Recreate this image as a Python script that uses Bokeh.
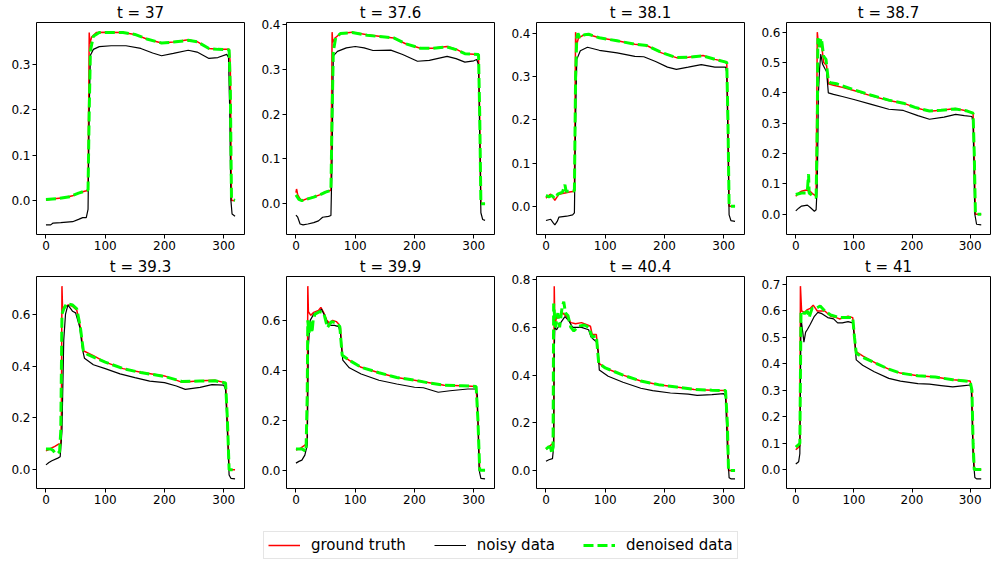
from bokeh.plotting import figure
from bokeh.models import Range1d, FixedTicker, PrintfTickFormatter, Legend, LegendItem
from bokeh.layouts import column, row
from bokeh.embed import file_html
from bokeh.resources import INLINE

# ---------------- data ----------------
titles = ["t = 37", "t = 37.6", "t = 38.1", "t = 38.7",
          "t = 39.3", "t = 39.9", "t = 40.4", "t = 41"]
series_labels = ["ground truth", "noisy data", "denoised data"]
x_ticks = [0, 100, 200, 300]
y_ticks = [
    [0.0, 0.1, 0.2, 0.3],
    [0.0, 0.1, 0.2, 0.3, 0.4],
    [0.0, 0.1, 0.2, 0.3, 0.4],
    [0.0, 0.1, 0.2, 0.3, 0.4, 0.5, 0.6],
    [0.0, 0.2, 0.4, 0.6],
    [0.0, 0.2, 0.4, 0.6],
    [0.0, 0.2, 0.4, 0.6, 0.8],
    [0.0, 0.1, 0.2, 0.3, 0.4, 0.5, 0.6, 0.7],
]

# t = 37
gt_37 = [(0, 0.0), (10, 0.003), (30, 0.006), (45, 0.01), (55, 0.016), (65, 0.02), (71, 0.022), (73, 0.37),
         (74, 0.345), (77, 0.36), (85, 0.37), (100, 0.371), (130, 0.37), (150, 0.366), (170, 0.356),
         (195, 0.347), (215, 0.349), (240, 0.354), (255, 0.35), (275, 0.335), (290, 0.333), (309, 0.333),
         (311, 0.3), (313, 0.0), (319, 0.0)]
noisy_37 = [(0, -0.054), (8, -0.054), (12, -0.05), (25, -0.049), (45, -0.047), (55, -0.042), (62, -0.038),
            (68, -0.038), (71, -0.02), (73, 0.2), (75, 0.32), (80, 0.333), (90, 0.339), (110, 0.341),
            (135, 0.341), (160, 0.335), (180, 0.325), (195, 0.319), (215, 0.324), (240, 0.331), (255, 0.327),
            (275, 0.313), (290, 0.315), (305, 0.322), (308, 0.315), (310, 0.2), (312, 0.0), (314, -0.03),
            (319, -0.035)]
den_37 = [(0, 0.002), (20, 0.004), (40, 0.008), (55, 0.016), (65, 0.02), (71, 0.023), (73, 0.2), (75, 0.33),
          (80, 0.362), (90, 0.37), (130, 0.37), (150, 0.366), (170, 0.356), (195, 0.347), (215, 0.349),
          (240, 0.353), (255, 0.35), (275, 0.335), (290, 0.333), (309, 0.332), (311, 0.25), (313, 0.002),
          (319, 0.0)]

# t = 37.6
gt_376 = [(0, 0.025), (1, 0.033), (3, 0.02), (8, 0.009), (12, 0.008), (20, 0.012), (30, 0.015), (40, 0.02),
          (50, 0.027), (59, 0.03), (61, 0.383), (62, 0.36), (66, 0.37), (75, 0.38), (95, 0.383), (120, 0.377),
          (150, 0.372), (165, 0.37), (185, 0.357), (210, 0.347), (230, 0.347), (255, 0.351), (270, 0.345),
          (285, 0.335), (308, 0.333), (310, 0.2), (312, 0.0), (319, 0.0)]
noisy_376 = [(0, -0.025), (3, -0.03), (7, -0.045), (12, -0.047), (20, -0.045), (30, -0.042), (38, -0.038),
             (45, -0.03), (55, -0.028), (59, -0.026), (61, 0.1), (63, 0.33), (70, 0.34), (85, 0.348),
             (100, 0.351), (115, 0.348), (130, 0.342), (160, 0.343), (180, 0.333), (205, 0.318), (225, 0.32),
             (255, 0.329), (270, 0.324), (285, 0.316), (300, 0.319), (305, 0.322), (308, 0.31), (310, 0.15),
             (312, -0.02), (315, -0.035), (319, -0.037)]
den_376 = [(0, 0.02), (5, 0.01), (10, 0.007), (20, 0.011), (30, 0.015), (40, 0.02), (50, 0.026), (59, 0.03),
           (61, 0.2), (63, 0.34), (67, 0.37), (75, 0.38), (95, 0.382), (120, 0.376), (150, 0.372), (165, 0.37),
           (185, 0.357), (210, 0.347), (230, 0.347), (255, 0.35), (270, 0.344), (285, 0.335), (308, 0.333),
           (310, 0.2), (312, 0.0), (319, 0.0)]

# t = 38.1
gt_381 = [(0, 0.019), (5, 0.025), (8, 0.028), (12, 0.02), (15, 0.014), (18, 0.02), (22, 0.028), (30, 0.03),
          (40, 0.033), (48, 0.035), (50, 0.403), (51, 0.37), (55, 0.39), (62, 0.395), (70, 0.398), (90, 0.39),
          (120, 0.383), (150, 0.375), (170, 0.372), (195, 0.355), (220, 0.344), (240, 0.345), (265, 0.349),
          (285, 0.34), (305, 0.334), (307, 0.2), (309, 0.0), (319, 0.0)]
noisy_381 = [(0, -0.033), (8, -0.03), (12, -0.038), (15, -0.043), (19, -0.035), (22, -0.025), (35, -0.023),
             (45, -0.02), (48, -0.015), (50, 0.2), (52, 0.34), (58, 0.36), (70, 0.368), (90, 0.361),
             (120, 0.355), (150, 0.347), (165, 0.346), (185, 0.335), (205, 0.322), (220, 0.317), (240, 0.322),
             (262, 0.328), (285, 0.322), (303, 0.322), (305, 0.31), (307, 0.15), (309, -0.02), (312, -0.033),
             (319, -0.035)]
den_381 = [(0, 0.025), (5, 0.022), (10, 0.025), (15, 0.018), (20, 0.028), (28, 0.033), (32, 0.05),
           (34, 0.035), (40, 0.035), (48, 0.036), (50, 0.3), (52, 0.39), (54, 0.4), (57, 0.39), (65, 0.397),
           (72, 0.398), (90, 0.39), (120, 0.383), (150, 0.375), (170, 0.372), (195, 0.356), (220, 0.344),
           (240, 0.345), (265, 0.348), (285, 0.34), (305, 0.333), (307, 0.2), (309, 0.0), (319, 0.0)]

# t = 38.7
gt_387 = [(0, 0.059), (5, 0.07), (10, 0.076), (18, 0.08), (25, 0.075), (30, 0.066), (35, 0.06), (37, 0.6),
          (39, 0.56), (42, 0.555), (45, 0.548), (48, 0.5), (53, 0.49), (56, 0.43), (65, 0.425), (80, 0.418),
          (100, 0.408), (130, 0.39), (160, 0.375), (185, 0.366), (205, 0.352), (230, 0.339), (250, 0.343),
          (275, 0.348), (295, 0.34), (305, 0.333), (307, 0.2), (309, 0.0), (319, 0.0)]
noisy_387 = [(0, 0.011), (5, 0.02), (10, 0.027), (20, 0.03), (25, 0.022), (32, 0.01), (35, 0.015), (37, 0.1),
             (39, 0.4), (41, 0.48), (43, 0.528), (46, 0.495), (50, 0.48), (53, 0.47), (56, 0.4), (65, 0.395),
             (80, 0.388), (100, 0.378), (130, 0.362), (160, 0.346), (185, 0.342), (210, 0.325), (230, 0.313),
             (255, 0.32), (275, 0.329), (290, 0.325), (303, 0.322), (305, 0.3), (308, 0.0), (311, -0.033),
             (319, -0.035)]
den_387 = [(0, 0.065), (10, 0.07), (18, 0.07), (20, 0.08), (22, 0.132), (23, 0.07), (28, 0.062), (35, 0.055),
           (37, 0.3), (38, 0.58), (40, 0.55), (42, 0.57), (44, 0.58), (46, 0.55), (48, 0.52), (52, 0.51),
           (56, 0.44), (60, 0.433), (70, 0.43), (100, 0.41), (130, 0.392), (160, 0.376), (185, 0.366),
           (205, 0.352), (230, 0.34), (250, 0.343), (275, 0.347), (295, 0.34), (305, 0.333), (307, 0.2),
           (309, 0.0), (319, 0.0)]

# t = 39.3
gt_393 = [(0, 0.073), (8, 0.082), (15, 0.09), (22, 0.1), (25, 0.095), (26, 0.2), (27, 0.708), (28, 0.62),
          (32, 0.63), (38, 0.635), (45, 0.63), (52, 0.615), (58, 0.55), (63, 0.459), (80, 0.44), (100, 0.415),
          (130, 0.39), (160, 0.376), (200, 0.362), (230, 0.337), (260, 0.343), (285, 0.345), (303, 0.335),
          (306, 0.2), (309, 0.0), (319, 0.0)]
noisy_393 = [(0, 0.019), (5, 0.028), (10, 0.035), (20, 0.045), (24, 0.05), (27, 0.15), (30, 0.5), (33, 0.6),
             (37, 0.635), (42, 0.62), (45, 0.611), (50, 0.605), (57, 0.55), (62, 0.46), (65, 0.43), (80, 0.405),
             (100, 0.39), (125, 0.37), (150, 0.355), (175, 0.342), (200, 0.336), (220, 0.323), (235, 0.31),
             (260, 0.318), (280, 0.328), (300, 0.326), (303, 0.31), (306, 0.15), (309, -0.02), (312, -0.033),
             (319, -0.035)]
den_393 = [(0, 0.08), (8, 0.08), (12, 0.075), (15, 0.065), (20, 0.063), (23, 0.07), (25, 0.15), (27, 0.6),
           (30, 0.62), (35, 0.641), (45, 0.635), (52, 0.62), (58, 0.55), (63, 0.46), (70, 0.445), (100, 0.415),
           (130, 0.39), (160, 0.375), (200, 0.36), (230, 0.34), (260, 0.342), (285, 0.343), (303, 0.335),
           (306, 0.2), (309, 0.0), (319, 0.0)]

# t = 39.9
gt_399 = [(0, 0.08), (8, 0.088), (15, 0.1), (19, 0.11), (20, 0.737), (21, 0.635), (25, 0.62), (30, 0.632),
          (38, 0.64), (42, 0.652), (47, 0.63), (52, 0.6), (56, 0.59), (62, 0.6), (68, 0.595), (72, 0.585),
          (75, 0.57), (78, 0.461), (90, 0.44), (110, 0.412), (140, 0.39), (170, 0.371), (200, 0.36),
          (225, 0.35), (250, 0.34), (280, 0.338), (304, 0.335), (307, 0.2), (310, 0.0), (319, 0.0)]
noisy_399 = [(0, 0.028), (5, 0.035), (10, 0.04), (15, 0.06), (19, 0.1), (21, 0.5), (24, 0.6), (30, 0.625),
             (38, 0.632), (43, 0.645), (48, 0.62), (55, 0.58), (65, 0.58), (72, 0.575), (75, 0.55),
             (79, 0.441), (90, 0.41), (110, 0.385), (140, 0.36), (170, 0.345), (200, 0.332), (215, 0.33),
             (240, 0.312), (260, 0.318), (290, 0.325), (304, 0.325), (306, 0.3), (309, 0.0), (312, -0.033),
             (319, -0.035)]
den_399 = [(0, 0.085), (10, 0.085), (15, 0.078), (17, 0.075), (19, 0.3), (20, 0.6), (22, 0.55), (25, 0.6),
           (27, 0.55), (29, 0.6), (32, 0.625), (40, 0.635), (47, 0.63), (53, 0.571), (60, 0.595), (68, 0.59),
           (74, 0.575), (78, 0.46), (90, 0.44), (110, 0.412), (140, 0.39), (170, 0.371), (200, 0.36),
           (225, 0.349), (250, 0.34), (280, 0.338), (304, 0.335), (307, 0.2), (310, 0.0), (319, 0.0)]

# t = 40.4
gt_404 = [(0, 0.09), (5, 0.1), (10, 0.11), (13, 0.12), (14, 0.773), (15, 0.6), (18, 0.65), (22, 0.64),
          (28, 0.661), (35, 0.645), (42, 0.62), (50, 0.615), (60, 0.62), (70, 0.61), (75, 0.605), (78, 0.57),
          (85, 0.57), (88, 0.5), (89, 0.45), (100, 0.43), (130, 0.4), (160, 0.375), (190, 0.36), (220, 0.35),
          (250, 0.34), (280, 0.337), (303, 0.335), (306, 0.2), (308, 0.0), (319, 0.0)]
noisy_404 = [(0, 0.039), (5, 0.045), (11, 0.05), (13, 0.1), (14, 0.5), (15, 0.6), (18, 0.59), (25, 0.62),
             (32, 0.645), (38, 0.63), (45, 0.6), (60, 0.6), (72, 0.59), (76, 0.56), (80, 0.55), (85, 0.54),
             (88, 0.5), (90, 0.421), (105, 0.395), (130, 0.37), (160, 0.345), (180, 0.335), (210, 0.325),
             (240, 0.32), (255, 0.315), (280, 0.318), (300, 0.322), (303, 0.31), (306, 0.1), (309, -0.03),
             (312, -0.035), (319, -0.035)]
den_404 = [(0, 0.09), (5, 0.1), (8, 0.095), (10, 0.071), (12, 0.1), (13, 0.7), (16, 0.6), (20, 0.66),
           (23, 0.6), (27, 0.68), (30, 0.708), (33, 0.66), (37, 0.65), (42, 0.6), (47, 0.585), (55, 0.605),
           (65, 0.61), (72, 0.6), (78, 0.56), (85, 0.565), (89, 0.45), (100, 0.43), (130, 0.4), (160, 0.375),
           (190, 0.36), (220, 0.35), (250, 0.34), (280, 0.337), (303, 0.335), (306, 0.2), (308, 0.0),
           (319, 0.0)]

# t = 41
gt_41 = [(0, 0.075), (5, 0.085), (7, 0.09), (8, 0.694), (10, 0.6), (15, 0.595), (20, 0.605), (25, 0.61),
         (30, 0.622), (37, 0.6), (50, 0.6), (60, 0.58), (70, 0.575), (75, 0.57), (90, 0.58), (98, 0.575),
         (101, 0.5), (103, 0.447), (115, 0.43), (140, 0.4), (160, 0.38), (180, 0.365), (210, 0.355),
         (240, 0.35), (270, 0.34), (300, 0.335), (303, 0.3), (305, 0.1), (307, 0.0), (319, 0.0)]
noisy_41 = [(0, 0.021), (5, 0.03), (7, 0.06), (9, 0.572), (12, 0.52), (14, 0.482), (17, 0.52), (20, 0.53),
            (25, 0.55), (32, 0.58), (38, 0.595), (45, 0.59), (55, 0.575), (65, 0.57), (72, 0.555), (80, 0.555),
            (90, 0.56), (98, 0.555), (101, 0.5), (104, 0.415), (115, 0.395), (135, 0.37), (160, 0.345),
            (180, 0.335), (210, 0.325), (230, 0.323), (250, 0.318), (270, 0.313), (290, 0.318), (300, 0.32),
            (302, 0.3), (305, 0.05), (308, -0.03), (311, -0.035), (319, -0.035)]
den_41 = [(0, 0.085), (5, 0.095), (7, 0.1), (9, 0.6), (15, 0.59), (20, 0.6), (23, 0.575), (28, 0.61),
          (35, 0.61), (42, 0.619), (50, 0.6), (60, 0.585), (75, 0.575), (98, 0.575), (101, 0.5), (104, 0.44),
          (115, 0.425), (140, 0.4), (160, 0.38), (180, 0.365), (210, 0.355), (240, 0.35), (270, 0.34),
          (300, 0.333), (303, 0.3), (305, 0.1), (307, 0.0), (319, 0.0)]

panels = [
    (gt_37, noisy_37, den_37), (gt_376, noisy_376, den_376),
    (gt_381, noisy_381, den_381), (gt_387, noisy_387, den_387),
    (gt_393, noisy_393, den_393), (gt_399, noisy_399, den_399),
    (gt_404, noisy_404, den_404), (gt_41, noisy_41, den_41),
]

# ---------------- styling ----------------
FONT = "DejaVu Sans"
RED, BLACK, LIME = "#ff0000", "#000000", "#00ff00"
X_MIN, X_MAX = 0, 319


def xs(pts):
    return [p[0] for p in pts]


def ys(pts):
    return [p[1] for p in pts]


def make_panel(i):
    gt, noisy, den = panels[i]
    col = i % 4
    all_y = ys(gt) + ys(noisy) + ys(den)
    lo, hi = min(all_y), max(all_y)
    pad = 0.05 * (hi - lo)
    xpad = 0.05 * (X_MAX - X_MIN)
    p = figure(frame_width=208 if col < 3 else 204, frame_height=212,
               min_border_left=36, min_border_right=6 if col < 3 else 2,
               min_border_top=20, min_border_bottom=20,
               x_range=Range1d(X_MIN - xpad, X_MAX + xpad),
               y_range=Range1d(lo - pad, hi + pad),
               output_backend="svg", toolbar_location=None)
    p.title.text = titles[i]
    p.title.align = "center"
    p.title.text_font = FONT
    p.title.text_font_size = "15px"
    p.title.text_font_style = "normal"
    p.title.text_color = "black"
    p.title.standoff = 2
    p.grid.visible = False
    p.outline_line_color = "black"
    p.outline_line_width = 1
    p.outline_line_alpha = 1
    for ax in (p.xaxis[0], p.yaxis[0]):
        ax.axis_line_color = None
        ax.major_tick_out = 4
        ax.major_tick_in = 0
        ax.minor_tick_line_color = None
        ax.major_tick_line_color = "black"
        ax.major_label_text_font = FONT
        ax.major_label_text_font_size = "12px"
        ax.major_label_text_color = "black"
        ax.major_label_standoff = 2
    p.xaxis[0].ticker = FixedTicker(ticks=x_ticks)
    p.yaxis[0].ticker = FixedTicker(ticks=y_ticks[i])
    p.yaxis[0].formatter = PrintfTickFormatter(format="%.1f")
    p.line(xs(gt), ys(gt), line_color=RED, line_width=1.5)
    p.line(xs(noisy), ys(noisy), line_color=BLACK, line_width=1.2)
    p.line(xs(den), ys(den), line_color=LIME, line_width=3, line_dash="10 4")
    return p


figs = [make_panel(i) for i in range(8)]

# legend strip (legend renderers carry points outside the visible range)
lg = figure(width=992, height=54, x_range=Range1d(0, 1), y_range=Range1d(0, 1),
            min_border_left=0, min_border_right=0, min_border_top=0, min_border_bottom=0,
            x_axis_location=None, y_axis_location=None,
            output_backend="svg", toolbar_location=None)
lg.grid.visible = False
lg.outline_line_color = None
r1 = lg.line([-10, -9], [-10, -9], line_color=RED, line_width=1.5)
r2 = lg.line([-10, -9], [-10, -9], line_color=BLACK, line_width=1.2)
r3 = lg.line([-10, -9], [-10, -9], line_color=LIME, line_width=3, line_dash="10 4")
legend = Legend(items=[LegendItem(label=series_labels[0], renderers=[r1]),
                       LegendItem(label=series_labels[1], renderers=[r2]),
                       LegendItem(label=series_labels[2], renderers=[r3])],
                orientation="horizontal", location=(263, 3),
                glyph_width=32, glyph_height=18, label_height=18,
                label_standoff=11, spacing=28, padding=4, margin=0,
                label_text_font=FONT, label_text_font_size="15px", label_text_color="black",
                border_line_color="#cccccc", border_line_width=1,
                background_fill_color="white", background_fill_alpha=1)
lg.add_layout(legend)

layout = column(row(*figs[:4]), row(*figs[4:]), lg)
open("out.html", "w").write(file_html(layout, INLINE))
